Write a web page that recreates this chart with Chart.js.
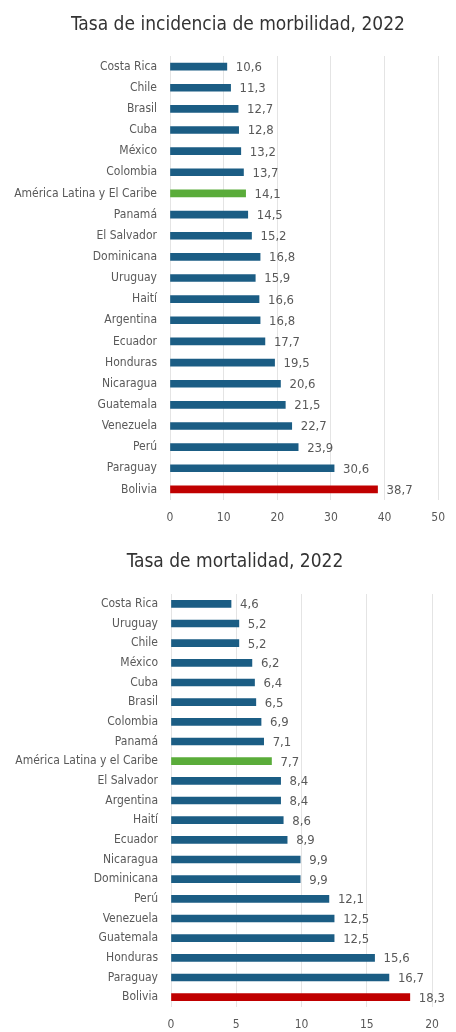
<!DOCTYPE html>
<html lang="es">
<head>
<meta charset="utf-8">
<title>Morbilidad y mortalidad 2022</title>
<script src="https://cdn.jsdelivr.net/npm/chart.js@4.4.1/dist/chart.umd.min.js"></script>
<style>
  html, body { margin: 0; padding: 0; background: #fff; }
  .box { position: relative; width: 456px; }
  #box1 { height: 530px; }
  #box2 { height: 502px; }
</style>
</head>
<body>
<div class="box" id="box1"><canvas id="morbChart"></canvas></div>
<div class="box" id="box2"><canvas id="mortChart"></canvas></div>
<script>
// Tasa de incidencia de morbilidad, 2022
const morbCountries = ['Costa Rica', 'Chile', 'Brasil', 'Cuba', 'México', 'Colombia', 'América Latina y El Caribe',
  'Panamá', 'El Salvador', 'Dominicana', 'Uruguay', 'Haití', 'Argentina', 'Ecuador', 'Honduras', 'Nicaragua',
  'Guatemala', 'Venezuela', 'Perú', 'Paraguay', 'Bolivia'];
const morbValues = [10.6, 11.3, 12.7, 12.8, 13.2, 13.7, 14.1, 14.5, 15.2, 16.8, 15.9, 16.6, 16.8, 17.7, 19.5, 20.6,
  21.5, 22.7, 23.9, 30.6, 38.7];
const morbTicks = { max: 50, step: 10 };

// Tasa de mortalidad, 2022
const mortCountries = ['Costa Rica', 'Uruguay', 'Chile', 'México', 'Cuba', 'Brasil', 'Colombia', 'Panamá',
  'América Latina y el Caribe', 'El Salvador', 'Argentina', 'Haití', 'Ecuador', 'Nicaragua', 'Dominicana', 'Perú',
  'Venezuela', 'Guatemala', 'Honduras', 'Paraguay', 'Bolivia'];
const mortValues = [4.6, 5.2, 5.2, 6.2, 6.4, 6.5, 6.9, 7.1, 7.7, 8.4, 8.4, 8.6, 8.9, 9.9, 9.9, 12.1, 12.5, 12.5,
  15.6, 16.7, 18.3];
const mortTicks = { max: 20, step: 5 };

const BLUE = '#1b5d84';
const GREEN = '#5aac3a';
const RED = '#c00000';
const FONT = "'Liberation Sans Narrow', 'DejaVu Sans Condensed', 'Roboto', sans-serif";

function barColors(names) {
  return names.map(n => {
    if (n === 'Bolivia') return RED;
    if (n.startsWith('América Latina')) return GREEN;
    return BLUE;
  });
}

// escribe el valor a la derecha de cada barra, con coma decimal
const valueLabels = {
  id: 'valueLabels',
  afterDatasetsDraw(chart) {
    const ctx = chart.ctx;
    const data = chart.data.datasets[0].data;
    ctx.save();
    ctx.font = '13px ' + FONT;
    ctx.fillStyle = '#595959';
    ctx.textAlign = 'left';
    ctx.textBaseline = 'middle';
    chart.getDatasetMeta(0).data.forEach((bar, i) => {
      ctx.fillText(data[i].toFixed(1).replace('.', ','), bar.x + 9, bar.y + 1);
    });
    ctx.restore();
  }
};

// título centrado sobre la columna de la figura (no sobre el lienzo completo)
const headTitle = {
  id: 'headTitle',
  afterDraw(chart, args, opts) {
    const ctx = chart.ctx;
    ctx.save();
    ctx.font = '19px ' + FONT;
    ctx.fillStyle = '#333333';
    ctx.textAlign = 'center';
    ctx.textBaseline = 'middle';
    ctx.fillText(opts.text, opts.x, opts.y);
    ctx.restore();
  }
};

function makeChart(id, title, names, values, ticks, cfg) {
  return new Chart(document.getElementById(id), {
    type: 'bar',
    data: {
      labels: names,
      datasets: [{ data: values, backgroundColor: barColors(names), barThickness: 7, borderWidth: 0 }]
    },
    options: {
      indexAxis: 'y',
      responsive: true,
      maintainAspectRatio: false,
      animation: false,
      layout: { padding: { left: 0, right: cfg.right, top: cfg.top, bottom: 0 } },
      plugins: {
        legend: { display: false },
        tooltip: { enabled: false },
        headTitle: { text: title, x: cfg.titleX, y: cfg.titleY }
      },
      scales: {
        x: {
          min: 0,
          max: ticks.max,
          ticks: { stepSize: ticks.step, color: '#595959', font: { family: FONT, size: 12 }, padding: cfg.tickPad },
          grid: { color: '#e4e4e4', drawTicks: false },
          border: { display: false },
          afterFit: s => { s.height = cfg.xHeight; }
        },
        y: {
          ticks: { color: '#595959', font: { family: FONT, size: 12 }, padding: 13 },
          grid: { display: false, drawTicks: false },
          border: { display: false },
          afterFit: s => { s.width = cfg.left; }
        }
      }
    },
    plugins: [valueLabels, headTitle]
  });
}

makeChart('morbChart', 'Tasa de incidencia de morbilidad, 2022', morbCountries, morbValues, morbTicks,
  { left: 170, right: 9, top: 56, titleX: 238, titleY: 25, xHeight: 30, tickPad: 11 });

makeChart('mortChart', 'Tasa de mortalidad, 2022', mortCountries, mortValues, mortTicks,
  { left: 171, right: 24, top: 64, titleX: 235, titleY: 32, xHeight: 25, tickPad: 11 });
</script>
</body>
</html>
